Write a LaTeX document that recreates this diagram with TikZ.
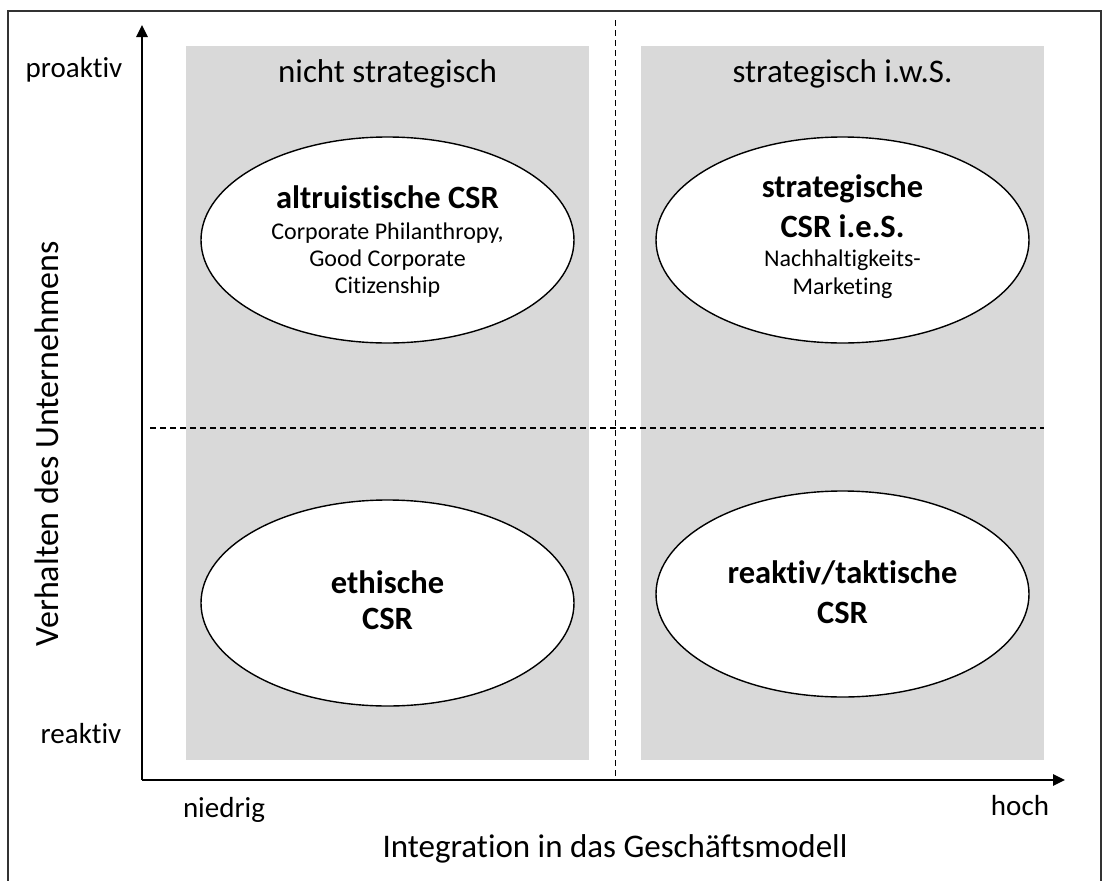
\documentclass[tikz,border=0pt]{standalone}
\usepackage{fontspec}
\setmainfont[Ligatures=NoCommon]{Carlito}
\usetikzlibrary{arrows.meta,shapes.geometric,calc}
\tikzset{
  oval/.style={ellipse, draw=black, line width=1.4pt, fill=white, minimum width=373pt, minimum height=206pt, inner sep=0pt},
  axis/.style={line width=2.5pt, -{Triangle[length=12pt,width=11pt]}},
  divider/.style={line width=1.2pt, dash pattern=on 6pt off 4pt},
  frameline/.style={line width=1.3pt, draw=black!80},
  big/.style={font=\fontsize{33}{40}\selectfont, anchor=base, inner sep=0pt},
  mid/.style={font=\fontsize{29}{35}\selectfont, anchor=base, inner sep=0pt},
  head/.style={font=\fontsize{33}{39}\selectfont, anchor=base, inner sep=0pt},
  ttl/.style={font=\fontsize{32.5}{39}\selectfont\bfseries, anchor=base, inner sep=0pt},
  sub/.style={font=\fontsize{24}{29}\selectfont, anchor=base, inner sep=0pt},
}
\begin{document}
\begin{tikzpicture}[x=1pt,y=-1pt]
\useasboundingbox (0,0) rectangle (1106,881);
\definecolor{quadgray}{HTML}{D9D9D9}
% frame
\draw[frameline] (8,881) -- (8,11) -- (1101,11) -- (1101,881);
% grey columns
\fill[quadgray] (186,46) rectangle (589,760);
\fill[quadgray] (641,46) rectangle (1044,760);
% dashed dividers
\coordinate (vt) at (615.7,20);
\coordinate (vb) at (615.7,780);
\coordinate (hl) at (150,428);
\coordinate (hr) at (1044,428);
\draw[divider] (vt) -- (vb);
\draw[divider] (hl) -- (hr);
% axes
\coordinate (o) at (142,780);
\coordinate (ytip) at (142,25);
\coordinate (xtip) at (1065,780);
\draw[axis] (o) -- (ytip);
\draw[axis] (o) -- (xtip);
% column headings
\node[head] (h1) at (387.5,82) {nicht strategisch};
\node[head] (h2) at (842.5,82) {strategisch i.w.S.};
% axis labels
\node[mid] (pro) at (74,77) {proaktiv};
\node[mid] (rea) at (81,743) {reaktiv};
\node[mid] (nie) at (224,817) {niedrig};
\node[mid] (hoc) at (1020,815) {hoch};
\node[big] (xl) at (615,857) {Integration in das Geschäftsmodell};
\node[big, font=\fontsize{34}{40}\selectfont, rotate=90] (yl) at (58,444) {Verhalten des Unternehmens};
% ellipses
\node[oval] (tl) at (387.5,240) {};
\node[oval] (tr) at (842.5,240) {};
\node[oval] (bl) at (387.5,603) {};
\node[oval] (br) at (842.5,594) {};
% texts
\node[ttl] (tl1) at ($(tl)+(0,-32)$) {altruistische CSR};
\node[sub] (tl2) at ($(tl)+(0,-1)$) {Corporate Philanthropy,};
\node[sub] (tl3) at ($(tl)+(0,26)$) {Good Corporate};
\node[sub] (tl4) at ($(tl)+(0,53)$) {Citizenship};
\node[ttl] (tr1) at ($(tr)+(0,-43)$) {strategische};
\node[ttl] (tr2) at ($(tr)+(0,-3)$) {CSR i.e.S.};
\node[sub] (tr3) at ($(tr)+(0,26)$) {Nachhaltigkeits-};
\node[sub] (tr4) at ($(tr)+(0,54)$) {Marketing};
\node[ttl] (bl1) at ($(bl)+(0,-10)$) {ethische};
\node[ttl] (bl2) at ($(bl)+(0,26)$) {CSR};
\node[ttl] (br1) at ($(br)+(0,-11)$) {reaktiv/taktische};
\node[ttl] (br2) at ($(br)+(0,29)$) {CSR};
\end{tikzpicture}
\end{document}
